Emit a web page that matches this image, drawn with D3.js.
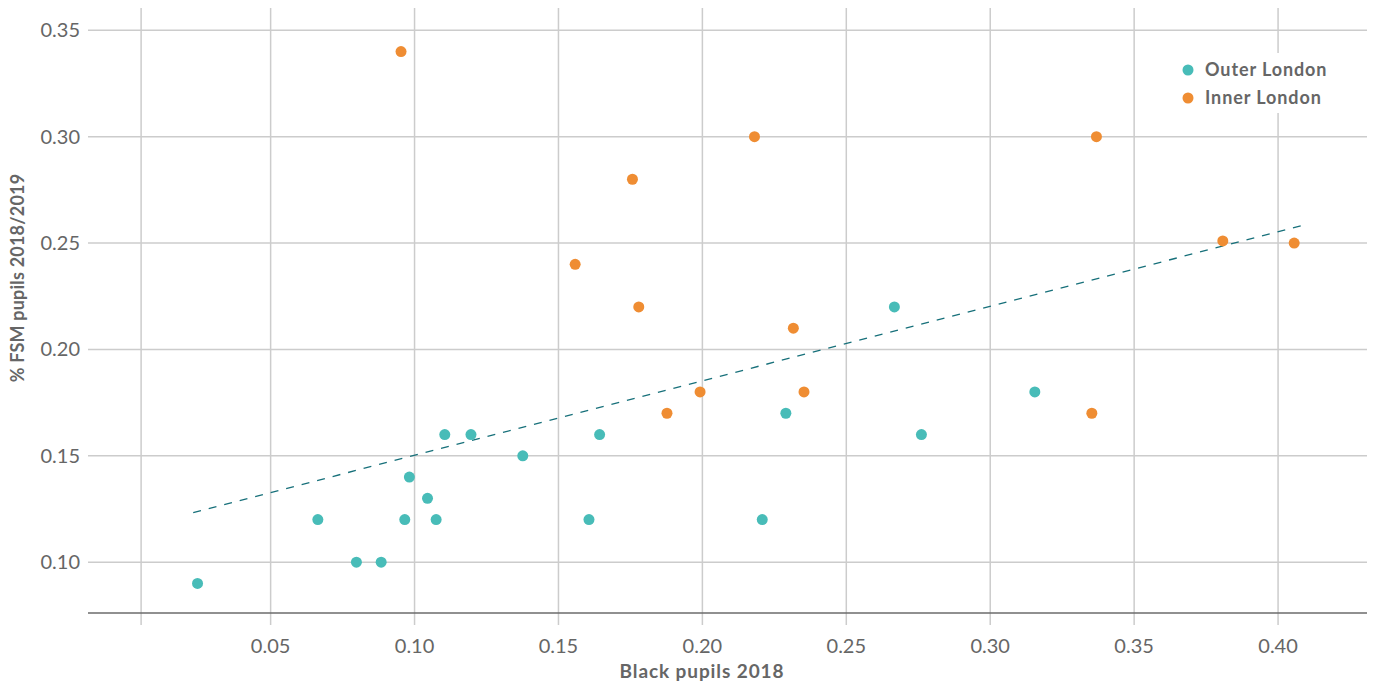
<!DOCTYPE html>
<html>
<head>
<meta charset="utf-8">
<script src="https://cdnjs.cloudflare.com/ajax/libs/d3/7.8.5/d3.min.js"></script>
<style>
  body { margin: 0; background: #fff; }
  text { font-family: Lato, "Open Sans", sans-serif; fill: #666; }
</style>
</head>
<body>
<svg></svg>
<script>
// Outer London boroughs: share of black pupils vs share of FSM pupils
let outerX = [0.0246, 0.0664, 0.0798, 0.0884, 0.0966, 0.0982, 0.1045, 0.1075, 0.1105, 0.1196,
              0.1376, 0.1606, 0.1643, 0.2208, 0.2290, 0.2667, 0.2761, 0.3155];
let outerY = [0.09, 0.12, 0.10, 0.10, 0.12, 0.14, 0.13, 0.12, 0.16, 0.16,
              0.15, 0.12, 0.16, 0.12, 0.17, 0.22, 0.16, 0.18];

let innerX = [0.0953, 0.1558, 0.1757, 0.1779, 0.1877, 0.1992, 0.2181, 0.2316, 0.2353,
              0.3353, 0.3369, 0.3808, 0.4056];
let innerY = [0.34, 0.24, 0.28, 0.22, 0.17, 0.18, 0.30, 0.21, 0.18,
              0.17, 0.30, 0.251, 0.25];

// trend line end points
let trendX = [0.0231, 0.4097];
let trendY = [0.1233, 0.2587];

let xTicks = [0.005, 0.05, 0.10, 0.15, 0.20, 0.25, 0.30, 0.35, 0.40];
let xTickLabels = ['', '0.05', '0.10', '0.15', '0.20', '0.25', '0.30', '0.35', '0.40'];
let yTicks = [0.10, 0.15, 0.20, 0.25, 0.30, 0.35];

let seriesNames = ['Outer London', 'Inner London'];
let colors = ['#48bcb8', '#ef8d33'];

let svgWidth = 1375, svgHeight = 686;
let margin = {top: 8, right: 8, bottom: 73, left: 88};

let svg = d3.select('svg')
            .attr('width', svgWidth)
            .attr('height', svgHeight);

let x = d3.scaleLinear()
          .domain([-0.01345, 0.4309])
          .range([margin.left, svgWidth - margin.right]);

let y = d3.scaleLinear()
          .domain([0.0761, 0.3605])
          .range([svgHeight - margin.bottom, margin.top]);

// vertical grid lines (run past the axis as ticks)
svg.append('g')
   .selectAll('line')
   .data(xTicks)
   .enter()
   .append('line')
   .attr('x1', d => x(d)).attr('x2', d => x(d))
   .attr('y1', margin.top).attr('y2', svgHeight - margin.bottom + 12)
   .attr('stroke', '#cccccc')
   .attr('stroke-width', 1.5);

// horizontal grid lines
svg.append('g')
   .selectAll('line')
   .data(yTicks)
   .enter()
   .append('line')
   .attr('x1', margin.left).attr('x2', svgWidth - margin.right)
   .attr('y1', d => y(d)).attr('y2', d => y(d))
   .attr('stroke', '#cccccc')
   .attr('stroke-width', 1.5);

// x axis base line
svg.append('line')
   .attr('x1', margin.left).attr('x2', svgWidth - margin.right)
   .attr('y1', svgHeight - margin.bottom).attr('y2', svgHeight - margin.bottom)
   .attr('stroke', '#6b6b6b')
   .attr('stroke-width', 1.5);

// tick labels
svg.append('g')
   .selectAll('text')
   .data(xTicks)
   .enter()
   .append('text')
   .attr('x', d => x(d))
   .attr('y', svgHeight - margin.bottom + 40)
   .attr('text-anchor', 'middle')
   .style('font-size', '20px')
   .text((d, i) => xTickLabels[i]);

svg.append('g')
   .selectAll('text')
   .data(yTicks)
   .enter()
   .append('text')
   .attr('x', margin.left - 8)
   .attr('y', d => y(d))
   .attr('dy', '0.35em')
   .attr('text-anchor', 'end')
   .style('font-size', '20px')
   .text(d => d3.format('.2f')(d));

// axis titles
svg.append('text')
   .attr('x', 702)
   .attr('y', 678)
   .attr('text-anchor', 'middle')
   .style('font-size', '19px')
   .style('font-weight', 'bold')
   .style('letter-spacing', '0.9px')
   .text('Black pupils 2018');

svg.append('text')
   .attr('transform', 'translate(24,278) rotate(-90)')
   .attr('text-anchor', 'middle')
   .style('font-size', '18px')
   .style('font-weight', 'bold')
   .style('letter-spacing', '0.2px')
   .text('% FSM pupils 2018/2019');

// trend line
let line = d3.line()
             .x(d => x(d[0]))
             .y(d => y(d[1]));

svg.append('path')
   .datum(d3.zip(trendX, trendY))
   .attr('d', line)
   .attr('fill', 'none')
   .attr('stroke', '#17707a')
   .attr('stroke-width', 1.3)
   .attr('stroke-dasharray', '8,8');

// points
let series = [d3.zip(outerX, outerY), d3.zip(innerX, innerY)];

series.forEach((pts, i) => {
    svg.append('g')
       .selectAll('circle')
       .data(pts)
       .enter()
       .append('circle')
       .attr('cx', d => x(d[0]))
       .attr('cy', d => y(d[1]))
       .attr('r', 5.5)
       .attr('fill', colors[i]);
});

// legend
let legend = svg.append('g');
legend.append('rect')
      .attr('x', 1172).attr('y', 53)
      .attr('width', 175).attr('height', 60)
      .attr('fill', '#fff');

let item = legend.selectAll('g')
                 .data(seriesNames)
                 .enter()
                 .append('g')
                 .attr('transform', (d, i) => 'translate(1188,' + (70 + i * 28) + ')');

item.append('circle')
    .attr('r', 5.5)
    .attr('fill', (d, i) => colors[i]);

item.append('text')
    .attr('x', 17)
    .attr('dy', '0.35em')
    .style('font-size', '18px')
    .style('font-weight', 'bold')
    .style('letter-spacing', '0.9px')
    .text(d => d);
</script>
</body>
</html>
